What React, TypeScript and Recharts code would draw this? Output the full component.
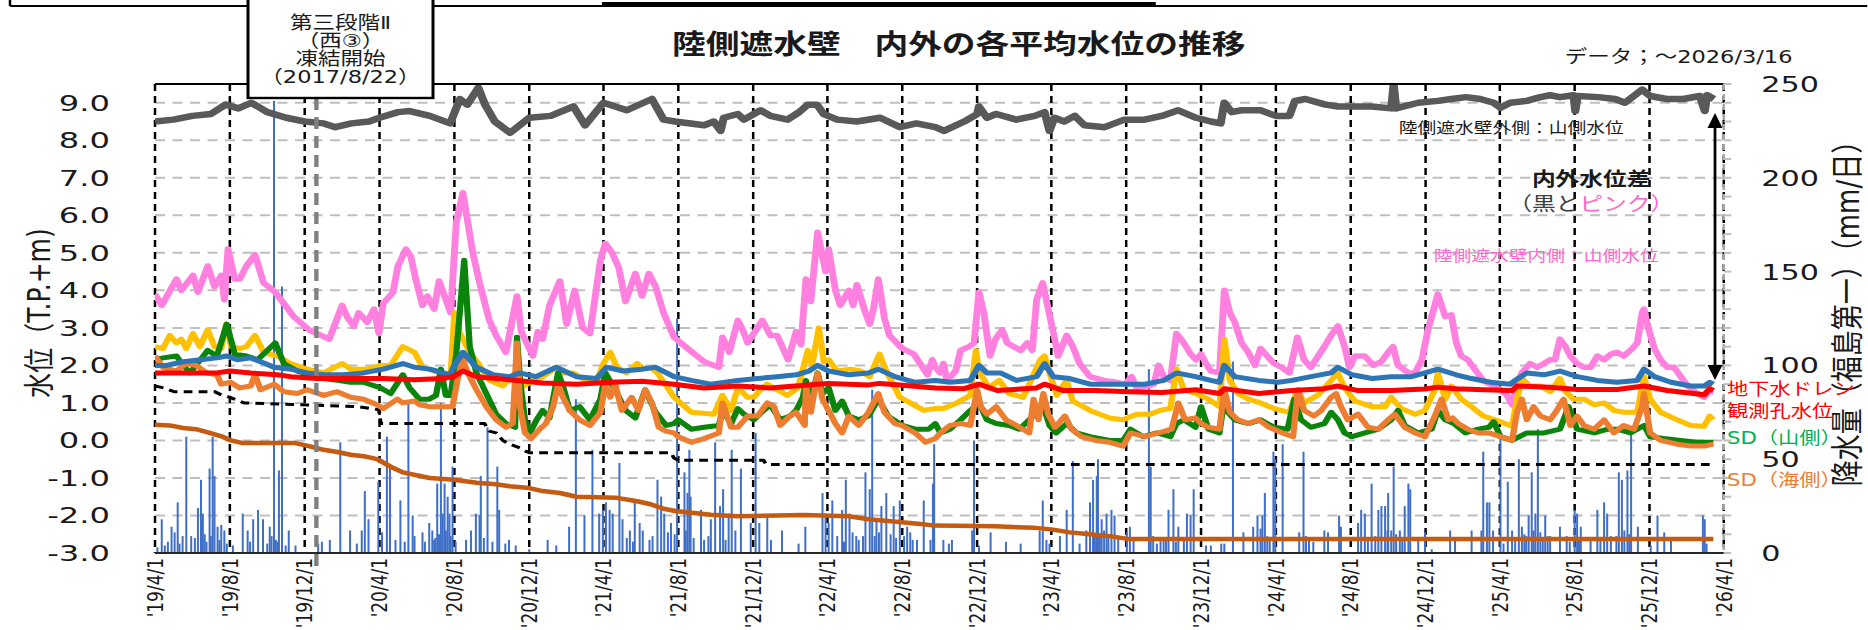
import React from 'react';
import { ComposedChart, Line, Bar, XAxis, YAxis, CartesianGrid } from 'recharts';

// the source picture is stretched sideways, so the whole chart is drawn narrow and scaled in x
const S = 1.25;
const W = 1494;
const H = 630;
const FONT = "'DejaVu Sans', 'Noto Sans CJK JP', sans-serif";
const CJK = "'Noto Sans CJK JP', sans-serif";

const tickDates = [
  '2019-04-01', '2019-08-01', '2019-12-01', '2020-04-01', '2020-08-01', '2020-12-01',
  '2021-04-01', '2021-08-01', '2021-12-01', '2022-04-01', '2022-08-01', '2022-12-01',
  '2023-04-01', '2023-08-01', '2023-12-01', '2024-04-01', '2024-08-01', '2024-12-01',
  '2025-04-01', '2025-08-01', '2025-12-01', '2026-04-01',
];
const tickLabels = [
  "'19/4/1", "'19/8/1", "'19/12/1", "'20/4/1", "'20/8/1", "'20/12/1",
  "'21/4/1", "'21/8/1", "'21/12/1", "'22/4/1", "'22/8/1", "'22/12/1",
  "'23/4/1", "'23/8/1", "'23/12/1", "'24/4/1", "'24/8/1", "'24/12/1",
  "'25/4/1", "'25/8/1", "'25/12/1", "'26/4/1",
];
const levelTicks = [-3, -2, -1, 0, 1, 2, 3, 4, 5, 6, 7, 8, 9];
const rainTicks = [0, 10, 20, 30, 40, 50, 60, 70, 80, 90, 100, 110, 120, 130, 140, 150, 160, 170, 180, 190, 200, 210, 220, 230, 240, 250];

type Pt = [string, number];

// 陸側遮水壁外側：山側水位 (gray)
const outerLevel: Pt[] = [
  ['2019-04-01', 8.5], ['2019-05-01', 8.55], ['2019-06-01', 8.65], ['2019-07-01', 8.7], ['2019-07-25', 8.95], ['2019-08-15', 8.85],
  ['2019-09-05', 9.0], ['2019-10-01', 8.75], ['2019-11-01', 8.6], ['2019-12-01', 8.5], ['2020-01-01', 8.45], ['2020-01-20', 8.35],
  ['2020-02-15', 8.45], ['2020-03-15', 8.5], ['2020-04-01', 8.6], ['2020-05-01', 8.75], ['2020-05-20', 8.78], ['2020-06-22', 8.65],
  ['2020-07-25', 8.45], ['2020-08-10', 9.1], ['2020-08-22', 8.95], ['2020-09-09', 9.4], ['2020-09-20', 8.95], ['2020-10-06', 8.5],
  ['2020-10-31', 8.2], ['2020-12-01', 8.6], ['2021-01-05', 8.65], ['2021-02-11', 8.9], ['2021-03-02', 8.4], ['2021-04-01', 9.0],
  ['2021-05-09', 8.8], ['2021-06-19', 9.1], ['2021-07-08', 8.55], ['2021-07-27', 8.5], ['2021-09-12', 8.4], ['2021-09-28', 8.5],
  ['2021-10-09', 8.25], ['2021-10-14', 8.6], ['2021-11-06', 8.7], ['2021-11-16', 8.55], ['2021-12-13', 8.8], ['2021-12-29', 8.65],
  ['2022-01-26', 8.55], ['2022-02-14', 8.75], ['2022-02-28', 8.95], ['2022-03-15', 8.95], ['2022-03-26', 8.7], ['2022-04-17', 8.55],
  ['2022-05-19', 8.5], ['2022-06-26', 8.6], ['2022-07-28', 8.35], ['2022-08-24', 8.45], ['2022-09-24', 8.35], ['2022-10-08', 8.25],
  ['2022-11-10', 8.5], ['2022-12-01', 8.7], ['2022-12-04', 8.9], ['2022-12-17', 8.6], ['2023-01-01', 8.7], ['2023-02-03', 8.55],
  ['2023-03-05', 8.65], ['2023-03-21', 8.75], ['2023-03-29', 8.25], ['2023-04-06', 8.6], ['2023-04-22', 8.5], ['2023-05-09', 8.65],
  ['2023-05-25', 8.4], ['2023-06-27', 8.35], ['2023-07-29', 8.55], ['2023-08-31', 8.55], ['2023-09-28', 8.65], ['2023-10-25', 8.8],
  ['2023-11-23', 8.6], ['2023-12-17', 8.5], ['2024-01-02', 8.45], ['2024-01-08', 9.0], ['2024-01-20', 8.75], ['2024-02-05', 8.8],
  ['2024-03-07', 8.8], ['2024-04-01', 8.65], ['2024-04-23', 8.65], ['2024-05-02', 9.05], ['2024-05-19', 9.1], ['2024-06-21', 8.95],
  ['2024-07-11', 8.9], ['2024-08-03', 8.9], ['2024-09-04', 8.9], ['2024-10-06', 8.85], ['2024-10-10', 9.5], ['2024-10-14', 8.85],
  ['2024-11-19', 9.0], ['2024-12-21', 9.05], ['2025-01-12', 9.1], ['2025-02-05', 9.15], ['2025-02-28', 9.1], ['2025-03-22', 9.0],
  ['2025-04-02', 8.87], ['2025-04-18', 9.0], ['2025-05-15', 9.05], ['2025-06-06', 9.15], ['2025-06-22', 9.2], ['2025-07-08', 9.15],
  ['2025-07-30', 9.2], ['2025-08-02', 8.78], ['2025-08-06', 9.18], ['2025-09-09', 9.15], ['2025-10-06', 9.1], ['2025-10-22', 9.0],
  ['2025-11-19', 9.35], ['2025-12-02', 9.18], ['2025-12-29', 9.1], ['2026-01-25', 9.1], ['2026-02-21', 9.18], ['2026-03-01', 8.78],
  ['2026-03-05', 9.2], ['2026-03-16', 9.1],
];

// 陸側遮水壁内側：山側水位 (pink)
const innerLevel: Pt[] = [
  ['2019-04-01', 3.9], ['2019-04-12', 3.6], ['2019-05-06', 4.3], ['2019-05-14', 4.0], ['2019-06-02', 4.4], ['2019-06-10', 3.95],
  ['2019-06-26', 4.65], ['2019-07-07', 4.1], ['2019-07-18', 4.4], ['2019-07-23', 3.75], ['2019-07-29', 5.1], ['2019-08-09', 4.3],
  ['2019-08-17', 4.3], ['2019-08-28', 4.65], ['2019-09-11', 4.95], ['2019-09-25', 4.2], ['2019-10-14', 3.95], ['2019-10-28', 3.65],
  ['2019-11-13', 3.3], ['2019-12-08', 2.95], ['2020-01-10', 2.7], ['2020-01-31', 3.6], ['2020-02-08', 3.3], ['2020-02-19', 3.05],
  ['2020-02-27', 3.4], ['2020-03-12', 3.15], ['2020-03-23', 3.5], ['2020-03-31', 2.85], ['2020-04-07', 3.65], ['2020-04-23', 3.95],
  ['2020-05-01', 4.65], ['2020-05-14', 5.1], ['2020-05-22', 4.9], ['2020-05-30', 4.3], ['2020-06-10', 3.6], ['2020-06-18', 3.85],
  ['2020-06-29', 3.5], ['2020-07-07', 4.25], ['2020-07-26', 3.4], ['2020-08-04', 5.8], ['2020-08-15', 6.6], ['2020-08-23', 5.8],
  ['2020-08-31', 5.0], ['2020-09-11', 4.2], ['2020-09-27', 3.2], ['2020-10-08', 2.8], ['2020-10-24', 2.35], ['2020-11-11', 3.85],
  ['2020-11-18', 2.9], ['2020-12-07', 2.25], ['2020-12-15', 2.9], ['2020-12-23', 2.7], ['2021-01-03', 3.6], ['2021-01-20', 4.25],
  ['2021-01-31', 3.1], ['2021-02-13', 4.0], ['2021-02-26', 3.0], ['2021-03-10', 2.85], ['2021-03-27', 4.8], ['2021-04-04', 5.25],
  ['2021-04-15', 5.0], ['2021-04-26', 4.6], ['2021-05-07', 3.7], ['2021-05-23', 4.45], ['2021-06-03', 3.85], ['2021-06-14', 4.45],
  ['2021-06-25', 4.1], ['2021-07-08', 3.4], ['2021-07-25', 2.75], ['2021-08-16', 2.45], ['2021-09-12', 2.1], ['2021-10-06', 1.95],
  ['2021-10-12', 2.75], ['2021-10-23', 2.35], ['2021-11-06', 3.2], ['2021-11-14', 2.95], ['2021-11-22', 2.6], ['2021-12-02', 2.85],
  ['2021-12-16', 3.2], ['2021-12-29', 2.8], ['2022-01-09', 2.8], ['2022-01-27', 2.15], ['2022-02-09', 2.9], ['2022-02-17', 2.55],
  ['2022-02-25', 4.3], ['2022-03-05', 3.7], ['2022-03-16', 5.55], ['2022-03-24', 4.9], ['2022-03-29', 4.5], ['2022-04-03', 5.1],
  ['2022-04-14', 4.0], ['2022-04-22', 3.6], ['2022-05-06', 4.0], ['2022-05-13', 3.6], ['2022-05-19', 4.15], ['2022-06-01', 3.45],
  ['2022-06-09', 3.1], ['2022-06-15', 3.5], ['2022-06-23', 4.3], ['2022-07-03', 3.25], ['2022-07-11', 2.8], ['2022-08-01', 2.45],
  ['2022-08-20', 2.3], ['2022-09-11', 1.75], ['2022-09-19', 2.15], ['2022-09-24', 1.95], ['2022-10-02', 1.8], ['2022-10-07', 2.05],
  ['2022-10-13', 1.6], ['2022-10-27', 1.85], ['2022-11-04', 2.4], ['2022-11-18', 2.5], ['2022-11-26', 2.6], ['2022-12-04', 3.95],
  ['2022-12-12', 3.4], ['2022-12-22', 2.25], ['2022-12-31', 2.7], ['2023-01-11', 2.95], ['2023-01-19', 2.6], ['2023-01-30', 2.5],
  ['2023-02-10', 2.4], ['2023-02-21', 2.6], ['2023-03-01', 2.4], ['2023-03-08', 3.75], ['2023-03-18', 4.2], ['2023-03-27', 3.5],
  ['2023-04-04', 2.9], ['2023-04-12', 2.25], ['2023-04-26', 2.8], ['2023-05-06', 2.5], ['2023-05-17', 2.05], ['2023-06-03', 1.7],
  ['2023-06-25', 1.6], ['2023-07-16', 1.55], ['2023-07-30', 1.5], ['2023-08-10', 1.7], ['2023-08-18', 1.4], ['2023-09-04', 1.45],
  ['2023-09-15', 1.5], ['2023-09-23', 2.0], ['2023-10-01', 1.7], ['2023-10-12', 1.6], ['2023-10-22', 2.85], ['2023-11-03', 2.6],
  ['2023-11-14', 2.3], ['2023-11-23', 2.15], ['2023-12-01', 2.3], ['2023-12-09', 2.05], ['2023-12-17', 1.85], ['2023-12-31', 1.8],
  ['2024-01-08', 4.0], ['2024-01-17', 3.4], ['2024-01-25', 3.15], ['2024-02-05', 2.6], ['2024-02-16', 2.35], ['2024-02-27', 2.0],
  ['2024-03-07', 2.45], ['2024-03-18', 2.25], ['2024-03-29', 2.05], ['2024-04-10', 1.95], ['2024-04-23', 1.8], ['2024-05-06', 2.75],
  ['2024-05-17', 2.15], ['2024-05-28', 1.95], ['2024-06-11', 2.3], ['2024-06-19', 2.5], ['2024-06-30', 2.8], ['2024-07-11', 3.05],
  ['2024-07-22', 2.5], ['2024-07-30', 1.95], ['2024-08-08', 2.25], ['2024-08-24', 2.25], ['2024-09-07', 2.0], ['2024-09-20', 2.1],
  ['2024-10-01', 2.35], ['2024-10-09', 2.5], ['2024-10-17', 2.0], ['2024-11-03', 1.8], ['2024-11-14', 1.8], ['2024-11-25', 2.15],
  ['2024-12-05', 2.95], ['2024-12-21', 3.9], ['2025-01-02', 3.3], ['2025-01-12', 3.35], ['2025-01-20', 2.6], ['2025-01-28', 2.25],
  ['2025-02-08', 2.15], ['2025-02-19', 1.9], ['2025-03-05', 1.6], ['2025-03-22', 1.45], ['2025-04-02', 1.35], ['2025-04-13', 1.2],
  ['2025-04-21', 0.95], ['2025-04-29', 1.5], ['2025-05-07', 1.8], ['2025-05-20', 2.05], ['2025-06-01', 1.95], ['2025-06-12', 2.05],
  ['2025-06-22', 2.15], ['2025-06-30', 2.15], ['2025-07-08', 2.7], ['2025-07-17', 2.5], ['2025-07-25', 2.25], ['2025-08-05', 2.05],
  ['2025-08-16', 1.95], ['2025-08-27', 1.95], ['2025-09-07', 2.25], ['2025-09-18', 2.15], ['2025-09-29', 2.3], ['2025-10-09', 2.35],
  ['2025-10-20', 2.25], ['2025-11-03', 2.45], ['2025-11-11', 2.6], ['2025-11-19', 3.4], ['2025-11-22', 3.5], ['2025-11-28', 3.05],
  ['2025-12-09', 2.45], ['2025-12-19', 2.15], ['2025-12-30', 1.95], ['2026-01-10', 1.95], ['2026-01-21', 1.7], ['2026-02-01', 1.45],
  ['2026-02-17', 1.25], ['2026-02-28', 1.15], ['2026-03-07', 1.3], ['2026-03-15', 1.3],
];

// yellow line
const yellowLevel: Pt[] = [
  ['2019-04-01', 2.5], ['2019-04-14', 2.45], ['2019-04-25', 2.8], ['2019-05-06', 2.6], ['2019-05-14', 2.7], ['2019-05-22', 2.45],
  ['2019-06-02', 2.85], ['2019-06-13', 2.5], ['2019-06-26', 2.95], ['2019-07-07', 2.5], ['2019-07-18', 2.45], ['2019-07-26', 3.1],
  ['2019-08-03', 2.5], ['2019-08-17', 2.45], ['2019-08-28', 2.5], ['2019-09-11', 2.8], ['2019-09-25', 2.35], ['2019-10-17', 2.25],
  ['2019-11-08', 2.05], ['2019-12-05', 1.9], ['2020-01-01', 1.8], ['2020-01-31', 2.05], ['2020-02-14', 1.9], ['2020-03-12', 1.9],
  ['2020-04-03', 2.0], ['2020-04-19', 2.0], ['2020-05-09', 2.5], ['2020-05-28', 2.35], ['2020-06-10', 1.95], ['2020-06-29', 1.85],
  ['2020-07-26', 1.75], ['2020-08-01', 3.4], ['2020-08-09', 2.9], ['2020-08-18', 2.6], ['2020-08-26', 2.35], ['2020-09-11', 2.0],
  ['2020-09-27', 1.6], ['2020-10-19', 1.45], ['2020-11-08', 1.8], ['2020-11-22', 1.45], ['2020-12-07', 1.6], ['2020-12-23', 1.7],
  ['2021-01-14', 1.95], ['2021-01-25', 1.8], ['2021-02-10', 1.8], ['2021-03-04', 1.6], ['2021-03-20', 1.55], ['2021-04-01', 2.05],
  ['2021-04-12', 2.35], ['2021-04-23', 1.95], ['2021-05-09', 1.8], ['2021-05-26', 2.05], ['2021-06-06', 1.9], ['2021-06-17', 1.95],
  ['2021-06-28', 1.8], ['2021-07-25', 1.15], ['2021-08-22', 0.75], ['2021-09-28', 0.7], ['2021-10-12', 1.2], ['2021-10-26', 0.8],
  ['2021-11-06', 1.4], ['2021-11-22', 1.15], ['2021-12-02', 1.15], ['2021-12-13', 1.35], ['2021-12-24', 1.5], ['2022-01-09', 1.35],
  ['2022-01-26', 1.2], ['2022-02-12', 1.4], ['2022-02-28', 2.4], ['2022-03-07', 2.0], ['2022-03-18', 3.0], ['2022-03-26', 2.1],
  ['2022-04-03', 2.15], ['2022-04-17', 1.85], ['2022-05-09', 1.9], ['2022-05-25', 1.85], ['2022-06-09', 1.7], ['2022-06-25', 2.3],
  ['2022-07-06', 1.85], ['2022-07-28', 1.15], ['2022-08-14', 1.0], ['2022-09-05', 0.8], ['2022-09-24', 0.85], ['2022-10-07', 0.85],
  ['2022-10-29', 1.0], ['2022-11-20', 1.2], ['2022-11-29', 2.4], ['2022-12-04', 1.85], ['2022-12-20', 1.4], ['2023-01-06', 1.6],
  ['2023-01-22', 1.25], ['2023-02-14', 1.15], ['2023-03-03', 1.75], ['2023-03-14', 2.15], ['2023-03-21', 2.25], ['2023-03-29', 1.8],
  ['2023-04-10', 1.2], ['2023-04-26', 1.6], ['2023-05-06', 1.05], ['2023-06-03', 0.8], ['2023-07-05', 0.6], ['2023-07-27', 0.55],
  ['2023-08-18', 0.7], ['2023-09-09', 0.7], ['2023-09-25', 0.8], ['2023-10-12', 0.85], ['2023-10-22', 1.9], ['2023-11-03', 1.35],
  ['2023-11-22', 1.25], ['2023-12-13', 1.1], ['2023-12-31', 0.9], ['2024-01-08', 2.7], ['2024-01-17', 1.6], ['2024-01-30', 1.25],
  ['2024-02-16', 1.1], ['2024-03-07', 1.0], ['2024-03-29', 0.85], ['2024-04-23', 0.75], ['2024-05-06', 1.35], ['2024-05-17', 1.0],
  ['2024-06-08', 1.2], ['2024-06-30', 1.6], ['2024-07-11', 1.8], ['2024-07-22', 1.4], ['2024-08-08', 1.05], ['2024-09-04', 0.9],
  ['2024-09-26', 0.9], ['2024-10-06', 1.15], ['2024-10-22', 0.85], ['2024-11-14', 0.7], ['2024-11-30', 0.8], ['2024-12-16', 1.35],
  ['2024-12-21', 1.8], ['2025-01-02', 1.1], ['2025-01-12', 1.45], ['2025-01-28', 1.1], ['2025-02-14', 0.9], ['2025-03-05', 0.65],
  ['2025-04-02', 0.5], ['2025-04-21', 0.38], ['2025-04-29', 1.1], ['2025-05-07', 1.65], ['2025-05-20', 1.45], ['2025-06-06', 1.45],
  ['2025-06-22', 1.3], ['2025-07-08', 1.65], ['2025-07-17', 1.3], ['2025-07-30', 1.1], ['2025-08-16', 1.1], ['2025-09-02', 0.95],
  ['2025-09-18', 1.0], ['2025-10-04', 0.8], ['2025-10-20', 0.75], ['2025-11-11', 0.75], ['2025-11-22', 1.7], ['2025-12-02', 1.1],
  ['2025-12-19', 0.75], ['2026-01-15', 0.55], ['2026-02-06', 0.4], ['2026-02-28', 0.38], ['2026-03-09', 0.65], ['2026-03-15', 0.55],
];

// blue line
const blueLevel: Pt[] = [
  ['2019-04-01', 2.0], ['2019-04-20', 2.0], ['2019-05-17', 2.1], ['2019-06-14', 2.15], ['2019-07-11', 2.2], ['2019-07-27', 2.25],
  ['2019-08-13', 2.15], ['2019-09-04', 2.2], ['2019-09-20', 2.1], ['2019-10-12', 1.95], ['2019-11-08', 1.9], ['2019-12-05', 1.8],
  ['2020-01-01', 1.75], ['2020-02-02', 1.75], ['2020-03-06', 1.8], ['2020-04-07', 1.9], ['2020-05-09', 2.05], ['2020-05-28', 1.95],
  ['2020-06-22', 1.9], ['2020-07-25', 1.75], ['2020-08-01', 2.0], ['2020-08-15', 2.35], ['2020-09-06', 1.95], ['2020-10-03', 1.75],
  ['2020-10-30', 1.7], ['2020-11-15', 1.8], ['2020-12-12', 1.7], ['2021-01-14', 1.95], ['2021-02-16', 1.7], ['2021-03-21', 1.65],
  ['2021-04-06', 1.95], ['2021-05-03', 1.85], ['2021-06-03', 1.9], ['2021-06-25', 1.95], ['2021-07-25', 1.7], ['2021-08-22', 1.6],
  ['2021-09-23', 1.5], ['2021-11-06', 1.6], ['2021-12-08', 1.65], ['2022-01-09', 1.7], ['2022-02-09', 1.75], ['2022-03-02', 1.85],
  ['2022-03-16', 2.0], ['2022-04-03', 1.85], ['2022-05-06', 1.75], ['2022-06-07', 1.8], ['2022-06-23', 1.9], ['2022-07-20', 1.7],
  ['2022-08-22', 1.55], ['2022-09-24', 1.6], ['2022-10-18', 1.55], ['2022-11-20', 1.6], ['2022-12-04', 2.0], ['2022-12-17', 1.8],
  ['2023-01-08', 1.8], ['2023-02-03', 1.6], ['2023-03-08', 1.7], ['2023-03-21', 2.05], ['2023-04-04', 1.7], ['2023-05-01', 1.65],
  ['2023-06-03', 1.5], ['2023-07-05', 1.5], ['2023-08-06', 1.5], ['2023-09-01', 1.5], ['2023-10-01', 1.6], ['2023-10-22', 1.8],
  ['2023-11-22', 1.7], ['2023-12-17', 1.6], ['2023-12-31', 1.55], ['2024-01-08', 2.0], ['2024-01-25', 1.7], ['2024-03-04', 1.6],
  ['2024-04-05', 1.55], ['2024-04-27', 1.6], ['2024-05-28', 1.7], ['2024-06-30', 1.8], ['2024-07-11', 1.95], ['2024-08-03', 1.75],
  ['2024-09-05', 1.65], ['2024-10-06', 1.7], ['2024-11-08', 1.7], ['2024-11-30', 1.8], ['2024-12-21', 1.9], ['2025-01-20', 1.75],
  ['2025-02-14', 1.65], ['2025-03-17', 1.55], ['2025-04-18', 1.5], ['2025-04-26', 1.6], ['2025-05-15', 1.8], ['2025-06-12', 1.75],
  ['2025-07-08', 1.85], ['2025-08-05', 1.7], ['2025-09-07', 1.6], ['2025-10-09', 1.55], ['2025-11-11', 1.6], ['2025-11-22', 1.9],
  ['2025-12-09', 1.7], ['2026-01-05', 1.55], ['2026-02-06', 1.45], ['2026-02-28', 1.45], ['2026-03-09', 1.55], ['2026-03-15', 1.5],
];

// 地下水ドレン観測孔水位 (red)
const drainLevel: Pt[] = [
  ['2019-04-01', 1.8], ['2019-05-17', 1.8], ['2019-07-11', 1.8], ['2019-08-01', 1.85], ['2019-09-04', 1.8], ['2019-10-17', 1.75],
  ['2019-11-08', 1.7], ['2019-12-21', 1.65], ['2020-02-14', 1.65], ['2020-04-07', 1.65], ['2020-05-28', 1.62], ['2020-07-13', 1.65],
  ['2020-07-30', 1.7], ['2020-08-15', 1.85], ['2020-09-06', 1.7], ['2020-10-30', 1.62], ['2020-12-23', 1.53], ['2021-02-16', 1.5],
  ['2021-04-12', 1.55], ['2021-06-03', 1.58], ['2021-07-25', 1.5], ['2021-09-12', 1.4], ['2021-11-06', 1.45], ['2021-12-29', 1.4],
  ['2022-03-15', 1.5], ['2022-04-03', 1.52], ['2022-06-07', 1.48], ['2022-06-25', 1.52], ['2022-07-28', 1.48], ['2022-09-24', 1.4],
  ['2022-11-10', 1.38], ['2022-12-04', 1.5], ['2023-01-03', 1.33], ['2023-03-08', 1.4], ['2023-03-21', 1.5], ['2023-04-20', 1.33],
  ['2023-06-12', 1.33], ['2023-08-06', 1.3], ['2023-09-28', 1.28], ['2023-11-22', 1.35], ['2023-12-31', 1.25], ['2024-01-08', 1.38],
  ['2024-03-04', 1.25], ['2024-04-27', 1.33], ['2024-06-19', 1.38], ['2024-07-11', 1.45], ['2024-08-13', 1.33], ['2024-10-06', 1.33],
  ['2024-11-30', 1.37], ['2024-12-21', 1.42], ['2025-01-20', 1.38], ['2025-03-05', 1.35], ['2025-04-21', 1.33], ['2025-04-29', 1.45],
  ['2025-06-22', 1.42], ['2025-08-05', 1.36], ['2025-10-09', 1.36], ['2025-11-22', 1.45], ['2025-12-30', 1.33], ['2026-02-28', 1.22],
  ['2026-03-09', 1.38], ['2026-03-15', 1.33],
];

// SD（山側） (green)
const sdMountain: Pt[] = [
  ['2019-04-01', 2.15], ['2019-04-14', 2.2], ['2019-05-06', 2.25], ['2019-05-17', 2.0], ['2019-05-28', 1.8], ['2019-06-14', 2.15],
  ['2019-06-26', 2.4], ['2019-07-11', 2.25], ['2019-07-27', 3.1], ['2019-08-09', 2.3], ['2019-08-28', 2.25], ['2019-09-15', 2.15],
  ['2019-10-14', 2.6], ['2019-10-28', 2.05], ['2019-11-19', 1.85], ['2019-12-11', 1.75], ['2020-01-01', 1.65], ['2020-01-23', 1.6],
  ['2020-02-14', 1.55], ['2020-03-06', 1.55], ['2020-04-03', 1.4], ['2020-04-19', 1.25], ['2020-05-09', 1.75], ['2020-05-20', 1.4],
  ['2020-06-05', 1.1], ['2020-06-21', 1.1], ['2020-07-02', 1.2], ['2020-07-10', 1.9], ['2020-07-18', 1.2], ['2020-07-26', 1.2],
  ['2020-08-04', 2.3], ['2020-08-17', 4.8], ['2020-08-26', 2.5], ['2020-09-06', 1.8], ['2020-09-22', 1.25], ['2020-10-08', 0.7],
  ['2020-10-24', 0.45], ['2020-11-08', 0.35], ['2020-11-11', 2.75], ['2020-11-16', 1.6], ['2020-11-24', 0.55], ['2020-12-02', 0.2],
  ['2020-12-13', 0.55], ['2020-12-23', 0.8], ['2021-01-03', 0.6], ['2021-01-17', 1.8], ['2021-01-25', 1.45], ['2021-02-05', 0.8],
  ['2021-02-21', 0.9], ['2021-03-10', 0.55], ['2021-03-27', 1.1], ['2021-04-04', 1.8], ['2021-04-20', 1.35], ['2021-05-07', 0.8],
  ['2021-05-23', 0.6], ['2021-06-08', 1.35], ['2021-06-25', 0.75], ['2021-07-12', 0.4], ['2021-07-25', 0.45], ['2021-08-01', 0.55],
  ['2021-08-22', 0.3], ['2021-09-12', 0.35], ['2021-10-06', 0.4], ['2021-10-12', 0.8], ['2021-10-26', 0.45], ['2021-11-06', 0.85],
  ['2021-11-16', 0.7], ['2021-12-02', 0.55], ['2021-12-18', 0.8], ['2021-12-29', 0.95], ['2022-01-14', 0.55], ['2022-01-30', 0.65],
  ['2022-02-09', 0.8], ['2022-02-20', 1.15], ['2022-02-25', 1.6], ['2022-03-05', 1.05], ['2022-03-16', 1.8], ['2022-03-24', 1.25],
  ['2022-04-03', 1.4], ['2022-04-14', 0.8], ['2022-04-25', 1.05], ['2022-05-06', 0.65], ['2022-05-22', 0.55], ['2022-06-07', 0.65],
  ['2022-06-23', 1.1], ['2022-07-09', 0.65], ['2022-08-01', 0.4], ['2022-08-22', 0.3], ['2022-09-13', 0.3], ['2022-09-24', 0.45],
  ['2022-10-02', 0.2], ['2022-10-18', 0.3], ['2022-11-04', 0.55], ['2022-11-20', 0.8], ['2022-12-01', 0.95], ['2022-12-07', 0.9],
  ['2022-12-17', 0.55], ['2023-01-01', 0.45], ['2023-01-22', 0.4], ['2023-02-08', 0.3], ['2023-02-24', 0.55], ['2023-03-08', 0.75],
  ['2023-03-21', 0.8], ['2023-03-29', 0.4], ['2023-04-09', 0.2], ['2023-04-26', 0.45], ['2023-05-12', 0.2], ['2023-06-03', 0.1],
  ['2023-07-05', 0.0], ['2023-07-27', 0.0], ['2023-08-08', 0.3], ['2023-08-29', 0.1], ['2023-09-20', 0.2], ['2023-10-12', 0.1],
  ['2023-10-22', 0.45], ['2023-11-03', 0.55], ['2023-11-22', 0.35], ['2023-12-01', 0.9], ['2023-12-13', 0.3], ['2023-12-31', 0.2],
  ['2024-01-08', 1.1], ['2024-01-14', 0.75], ['2024-01-25', 0.55], ['2024-02-16', 0.45], ['2024-03-07', 0.55], ['2024-03-29', 0.35],
  ['2024-04-20', 0.3], ['2024-05-01', 1.1], ['2024-05-12', 0.55], ['2024-05-28', 0.35], ['2024-06-19', 0.45], ['2024-06-30', 0.75],
  ['2024-07-11', 0.55], ['2024-07-22', 0.2], ['2024-08-03', 0.1], ['2024-08-24', 0.2], ['2024-09-15', 0.3], ['2024-10-06', 0.55],
  ['2024-10-17', 0.8], ['2024-10-28', 0.4], ['2024-11-19', 0.2], ['2024-12-11', 0.3], ['2024-12-21', 0.8], ['2025-01-02', 0.55],
  ['2025-01-16', 0.45], ['2025-02-04', 0.2], ['2025-02-25', 0.3], ['2025-03-14', 0.35], ['2025-03-22', 0.5], ['2025-04-02', 0.1],
  ['2025-04-21', 0.0], ['2025-05-15', 0.2], ['2025-06-12', 0.2], ['2025-07-08', 0.3], ['2025-07-22', 0.9], ['2025-08-05', 0.3],
  ['2025-09-02', 0.2], ['2025-09-24', 0.3], ['2025-10-09', 0.3], ['2025-10-31', 0.2], ['2025-11-22', 0.4], ['2025-12-02', 0.1],
  ['2025-12-24', 0.05], ['2026-01-21', 0.0], ['2026-02-17', -0.05], ['2026-03-15', -0.05],
];

// SD（海側） (orange)
const sdSea: Pt[] = [
  ['2019-04-01', 2.25], ['2019-04-14', 1.95], ['2019-05-06', 1.85], ['2019-05-22', 2.05], ['2019-06-07', 2.0], ['2019-06-24', 1.8],
  ['2019-07-11', 1.75], ['2019-07-18', 1.5], ['2019-08-02', 1.55], ['2019-08-17', 1.4], ['2019-09-04', 1.45], ['2019-09-11', 1.75],
  ['2019-09-20', 1.35], ['2019-10-12', 1.5], ['2019-10-28', 1.3], ['2019-11-19', 1.25], ['2019-12-05', 1.35], ['2020-01-01', 1.2],
  ['2020-01-23', 1.3], ['2020-02-14', 1.15], ['2020-03-06', 1.1], ['2020-03-28', 0.95], ['2020-04-07', 0.85], ['2020-04-30', 1.1],
  ['2020-05-09', 1.0], ['2020-05-28', 1.05], ['2020-06-05', 0.95], ['2020-06-21', 0.9], ['2020-07-13', 0.9], ['2020-07-29', 0.9],
  ['2020-08-07', 1.7], ['2020-08-15', 2.15], ['2020-08-23', 1.8], ['2020-09-06', 1.35], ['2020-09-22', 0.9], ['2020-10-08', 0.55],
  ['2020-10-24', 0.35], ['2020-11-04', 0.45], ['2020-11-11', 2.6], ['2020-11-16', 0.9], ['2020-11-24', 0.2], ['2020-12-04', 0.05],
  ['2020-12-18', 0.3], ['2020-12-28', 0.45], ['2021-01-09', 0.9], ['2021-01-17', 1.5], ['2021-01-25', 1.15], ['2021-02-05', 0.8],
  ['2021-02-21', 0.55], ['2021-03-10', 0.4], ['2021-03-27', 0.75], ['2021-04-04', 1.5], ['2021-04-12', 1.15], ['2021-04-20', 1.5],
  ['2021-05-01', 0.8], ['2021-05-17', 1.15], ['2021-05-28', 0.8], ['2021-06-08', 1.35], ['2021-06-19', 1.0], ['2021-06-30', 0.35],
  ['2021-07-11', 0.25], ['2021-07-25', 0.2], ['2021-08-01', 0.1], ['2021-08-22', -0.05], ['2021-09-12', 0.05], ['2021-10-06', 0.2],
  ['2021-10-12', 1.0], ['2021-10-26', 0.35], ['2021-11-06', 0.35], ['2021-11-22', 0.65], ['2021-12-08', 0.65], ['2021-12-24', 1.0],
  ['2022-01-04', 0.9], ['2022-01-14', 0.4], ['2022-01-30', 0.65], ['2022-02-09', 0.75], ['2022-02-23', 0.4], ['2022-02-25', 1.45],
  ['2022-03-05', 0.75], ['2022-03-16', 1.8], ['2022-03-24', 1.1], ['2022-04-03', 0.8], ['2022-04-14', 0.45], ['2022-04-25', 0.2],
  ['2022-05-06', 0.65], ['2022-05-22', 0.4], ['2022-06-07', 0.75], ['2022-06-23', 1.25], ['2022-07-03', 0.75], ['2022-07-20', 0.45],
  ['2022-07-31', 0.4], ['2022-08-22', 0.2], ['2022-09-08', -0.05], ['2022-09-24', 0.05], ['2022-10-02', 0.2], ['2022-10-18', 0.4],
  ['2022-11-04', 0.45], ['2022-11-20', 0.4], ['2022-12-01', 1.35], ['2022-12-07', 0.9], ['2022-12-17', 0.7], ['2023-01-01', 0.9],
  ['2023-01-17', 0.55], ['2023-02-03', 0.4], ['2023-02-24', 0.2], ['2023-03-03', 1.1], ['2023-03-11', 0.55], ['2023-03-19', 1.25],
  ['2023-03-27', 0.7], ['2023-04-07', 0.35], ['2023-04-23', 0.65], ['2023-05-04', 0.3], ['2023-05-20', 0.1], ['2023-06-12', 0.0],
  ['2023-07-05', -0.05], ['2023-07-27', -0.15], ['2023-08-08', 0.2], ['2023-08-31', 0.1], ['2023-09-23', 0.2], ['2023-10-14', 0.3],
  ['2023-10-25', 1.0], ['2023-11-05', 0.55], ['2023-11-22', 0.6], ['2023-12-01', 0.45], ['2023-12-13', 0.35], ['2023-12-31', 0.3],
  ['2024-01-08', 1.35], ['2024-01-17', 0.75], ['2024-01-30', 0.55], ['2024-02-16', 0.45], ['2024-03-04', 0.55], ['2024-03-21', 0.35],
  ['2024-04-12', 0.2], ['2024-04-29', 0.1], ['2024-05-07', 1.35], ['2024-05-17', 0.8], ['2024-06-02', 0.65], ['2024-06-14', 0.8],
  ['2024-06-30', 1.15], ['2024-07-08', 1.25], ['2024-07-16', 0.9], ['2024-07-27', 0.55], ['2024-08-13', 0.7], ['2024-08-29', 0.35],
  ['2024-09-15', 0.3], ['2024-10-01', 0.55], ['2024-10-12', 0.7], ['2024-10-28', 0.35], ['2024-11-14', 0.2], ['2024-11-30', 0.1],
  ['2024-12-16', 0.65], ['2024-12-27', 1.1], ['2025-01-07', 0.55], ['2025-01-14', 0.6], ['2025-01-23', 0.45], ['2025-02-08', 0.3],
  ['2025-02-25', 0.2], ['2025-03-14', 0.2], ['2025-04-02', 0.1], ['2025-04-21', 0.0], ['2025-04-29', 0.75], ['2025-05-07', 1.1],
  ['2025-05-15', 0.55], ['2025-05-26', 0.9], ['2025-06-06', 0.65], ['2025-06-22', 0.55], ['2025-07-03', 0.8], ['2025-07-14', 1.1],
  ['2025-07-25', 0.4], ['2025-08-05', 0.65], ['2025-08-16', 0.4], ['2025-09-02', 0.3], ['2025-09-18', 0.55], ['2025-10-04', 0.2],
  ['2025-10-20', 0.4], ['2025-11-06', 0.3], ['2025-11-19', 0.9], ['2025-11-22', 1.25], ['2025-12-02', 0.2], ['2025-12-19', 0.0],
  ['2026-01-15', -0.1], ['2026-02-06', -0.15], ['2026-02-28', -0.15], ['2026-03-15', -0.1],
];

// dark orange, slowly falling line
const deepLevel: Pt[] = [
  ['2019-04-01', 0.42], ['2019-04-25', 0.4], ['2019-05-17', 0.33], ['2019-06-07', 0.3], ['2019-06-29', 0.2], ['2019-07-20', 0.1],
  ['2019-08-03', 0.0], ['2019-08-22', -0.07], ['2019-11-16', -0.07], ['2019-12-08', -0.15], ['2020-01-01', -0.25], ['2020-01-21', -0.3],
  ['2020-02-14', -0.38], ['2020-03-06', -0.42], ['2020-03-28', -0.5], ['2020-04-19', -0.7], ['2020-05-09', -0.85], ['2020-06-22', -1.0],
  ['2020-08-01', -1.05], ['2020-09-06', -1.13], ['2020-10-08', -1.17], ['2020-10-30', -1.22], ['2020-12-01', -1.27], ['2020-12-23', -1.35],
  ['2021-01-20', -1.4], ['2021-02-16', -1.5], ['2021-04-23', -1.53], ['2021-05-26', -1.62], ['2021-06-17', -1.7], ['2021-07-08', -1.82],
  ['2021-07-27', -1.88], ['2021-09-23', -1.98], ['2021-11-06', -2.02], ['2022-02-22', -1.99], ['2022-05-06', -2.02], ['2022-06-07', -2.1],
  ['2022-07-09', -2.15], ['2022-08-31', -2.23], ['2022-09-24', -2.27], ['2022-12-31', -2.29], ['2023-03-05', -2.33], ['2023-04-01', -2.37],
  ['2023-05-01', -2.45], ['2023-06-03', -2.5], ['2023-07-05', -2.55], ['2023-08-06', -2.63], ['2026-03-15', -2.63],
];

// black dashed step line
const stepLevel: Pt[] = [
  ['2019-04-01', 1.45], ['2019-04-15', 1.4], ['2019-05-02', 1.3], ['2019-07-07', 1.3], ['2019-07-20', 1.2], ['2019-08-01', 1.15],
  ['2019-08-24', 1.0], ['2020-02-25', 0.9], ['2020-03-31', 0.82], ['2020-04-03', 0.45], ['2020-09-19', 0.45], ['2020-09-27', 0.25],
  ['2020-10-08', 0.2], ['2020-10-19', 0.0], ['2020-10-30', -0.1], ['2020-11-16', -0.2], ['2020-11-27', -0.3], ['2020-12-02', -0.33],
  ['2021-07-20', -0.33], ['2021-07-25', -0.47], ['2021-08-01', -0.53], ['2021-12-18', -0.53], ['2021-12-22', -0.64], ['2026-03-16', -0.64],
];

// 降水量（福島第一） mm/日
const rainfall: Pt[] = [
  ['2019-04-05', 3], ['2019-04-12', 18], ['2019-04-17', 4], ['2019-04-22', 6], ['2019-04-28', 14], ['2019-05-03', 11], ['2019-05-08', 27],
  ['2019-05-11', 5], ['2019-05-16', 9], ['2019-05-22', 62], ['2019-05-30', 9], ['2019-06-05', 8], ['2019-06-10', 24], ['2019-06-15', 39],
  ['2019-06-18', 21], ['2019-06-21', 10], ['2019-06-24', 6], ['2019-06-29', 45], ['2019-07-01', 9], ['2019-07-04', 62], ['2019-07-07', 41],
  ['2019-07-12', 14], ['2019-07-15', 7], ['2019-07-18', 15], ['2019-07-23', 12], ['2019-07-27', 5], ['2019-08-06', 4], ['2019-08-22', 21],
  ['2019-08-30', 12], ['2019-09-03', 6], ['2019-09-08', 18], ['2019-09-16', 23], ['2019-09-24', 18], ['2019-10-01', 5], ['2019-10-05', 14],
  ['2019-10-08', 9], ['2019-10-12', 241], ['2019-10-15', 7], ['2019-10-18', 6], ['2019-10-20', 44], ['2019-10-25', 142], ['2019-10-31', 4],
  ['2019-11-05', 12], ['2019-11-16', 4], ['2019-12-23', 5], ['2019-12-29', 6], ['2020-01-11', 7], ['2020-01-28', 59], ['2020-02-13', 12],
  ['2020-02-24', 5], ['2020-03-03', 12], ['2020-03-08', 33], ['2020-03-14', 18], ['2020-03-30', 38], ['2020-04-05', 11], ['2020-04-13', 62],
  ['2020-04-18', 46], ['2020-04-27', 7], ['2020-05-05', 28], ['2020-05-12', 6], ['2020-05-18', 80], ['2020-05-25', 20], ['2020-05-28', 9],
  ['2020-06-10', 11], ['2020-06-14', 6], ['2020-06-21', 16], ['2020-06-26', 12], ['2020-06-29', 7], ['2020-07-01', 8], ['2020-07-04', 37],
  ['2020-07-07', 10], ['2020-07-10', 80], ['2020-07-13', 21], ['2020-07-16', 37], ['2020-07-18', 12], ['2020-07-21', 30], ['2020-07-24', 21],
  ['2020-07-26', 9], ['2020-07-29', 46], ['2020-08-03', 6], ['2020-08-20', 7], ['2020-08-28', 12], ['2020-09-05', 21], ['2020-09-11', 20],
  ['2020-09-13', 41], ['2020-09-18', 8], ['2020-09-24', 67], ['2020-10-02', 6], ['2020-10-10', 46], ['2020-10-13', 23], ['2020-10-23', 5],
  ['2020-10-29', 7], ['2020-11-09', 4], ['2020-12-01', 2], ['2020-12-31', 7], ['2021-01-14', 4], ['2021-02-04', 14], ['2021-02-15', 82],
  ['2021-03-01', 20], ['2021-03-14', 55], ['2021-03-25', 21], ['2021-03-31', 23], ['2021-04-05', 27], ['2021-04-11', 23], ['2021-04-16', 21],
  ['2021-04-27', 48], ['2021-05-02', 18], ['2021-05-09', 8], ['2021-05-14', 12], ['2021-05-19', 6], ['2021-05-22', 27], ['2021-05-30', 16],
  ['2021-06-04', 12], ['2021-06-15', 7], ['2021-06-20', 9], ['2021-06-28', 39], ['2021-07-04', 30], ['2021-07-09', 21], ['2021-07-15', 11],
  ['2021-07-20', 16], ['2021-07-26', 10], ['2021-07-30', 125], ['2021-08-11', 43], ['2021-08-13', 12], ['2021-08-16', 32], ['2021-08-19', 55],
  ['2021-08-21', 30], ['2021-08-26', 8], ['2021-09-07', 23], ['2021-09-12', 7], ['2021-09-19', 9], ['2021-09-23', 18], ['2021-09-30', 59],
  ['2021-10-08', 25], ['2021-10-13', 34], ['2021-10-17', 7], ['2021-10-22', 21], ['2021-10-27', 55], ['2021-11-02', 12], ['2021-11-11', 45],
  ['2021-11-27', 16], ['2021-12-05', 64], ['2021-12-11', 16], ['2021-12-24', 20], ['2021-12-30', 7], ['2022-01-17', 12], ['2022-02-13', 5],
  ['2022-02-24', 14], ['2022-03-24', 32], ['2022-03-29', 21], ['2022-04-03', 16], ['2022-04-09', 28], ['2022-04-17', 9], ['2022-04-25', 23],
  ['2022-04-28', 6], ['2022-05-01', 39], ['2022-05-07', 21], ['2022-05-12', 11], ['2022-05-18', 9], ['2022-05-22', 7], ['2022-05-29', 9],
  ['2022-06-02', 43], ['2022-06-09', 34], ['2022-06-13', 87], ['2022-06-17', 9], ['2022-06-20', 18], ['2022-06-24', 11], ['2022-06-28', 25],
  ['2022-07-06', 32], ['2022-07-13', 10], ['2022-07-18', 25], ['2022-07-22', 8], ['2022-07-28', 28], ['2022-08-04', 9], ['2022-08-09', 14],
  ['2022-08-14', 11], ['2022-08-18', 7], ['2022-08-25', 7], ['2022-09-05', 28], ['2022-09-16', 7], ['2022-09-20', 37], ['2022-09-22', 58],
  ['2022-10-07', 7], ['2022-10-16', 5], ['2022-10-21', 7], ['2022-11-23', 12], ['2022-11-26', 60], ['2022-12-04', 4], ['2022-12-23', 11],
  ['2023-01-17', 6], ['2023-02-10', 5], ['2023-03-13', 12], ['2023-03-18', 28], ['2023-03-24', 7], ['2023-03-29', 5], ['2023-04-15', 9],
  ['2023-04-26', 23], ['2023-05-06', 49], ['2023-05-17', 5], ['2023-05-28', 12], ['2023-06-03', 27], ['2023-06-08', 39], ['2023-06-11', 9],
  ['2023-06-14', 41], ['2023-06-16', 50], ['2023-06-19', 10], ['2023-06-22', 18], ['2023-06-26', 12], ['2023-06-30', 21], ['2023-07-03', 8],
  ['2023-07-08', 23], ['2023-07-13', 20], ['2023-07-19', 9], ['2023-08-02', 11], ['2023-08-07', 14], ['2023-08-13', 7], ['2023-09-07', 98],
  ['2023-09-10', 46], ['2023-09-14', 9], ['2023-09-20', 5], ['2023-09-26', 7], ['2023-10-01', 7], ['2023-10-05', 8], ['2023-10-09', 23],
  ['2023-10-17', 34], ['2023-10-21', 6], ['2023-10-25', 14], ['2023-11-03', 7], ['2023-11-08', 21], ['2023-11-14', 20], ['2023-11-19', 34],
  ['2023-12-09', 4], ['2023-12-17', 4], ['2024-01-03', 5], ['2024-01-08', 5], ['2024-01-22', 102], ['2024-02-08', 11], ['2024-02-24', 14],
  ['2024-03-02', 20], ['2024-03-07', 13], ['2024-03-10', 20], ['2024-03-14', 32], ['2024-03-18', 9], ['2024-03-22', 7], ['2024-03-28', 54],
  ['2024-03-31', 50], ['2024-04-12', 58], ['2024-05-09', 11], ['2024-05-16', 54], ['2024-05-20', 9], ['2024-05-25', 7], ['2024-06-01', 6],
  ['2024-06-19', 12], ['2024-06-25', 11], ['2024-07-13', 20], ['2024-07-16', 14], ['2024-08-13', 16], ['2024-08-18', 23], ['2024-08-24', 21],
  ['2024-08-29', 8], ['2024-09-04', 37], ['2024-09-10', 9], ['2024-09-15', 23], ['2024-09-20', 25], ['2024-09-26', 25], ['2024-09-30', 12],
  ['2024-10-01', 32], ['2024-10-06', 12], ['2024-10-10', 46], ['2024-10-14', 10], ['2024-10-20', 12], ['2024-10-24', 8], ['2024-10-28', 25],
  ['2024-11-03', 37], ['2024-11-06', 34], ['2024-11-19', 7], ['2024-11-30', 11], ['2024-12-11', 2], ['2025-01-10', 12], ['2025-01-18', 7],
  ['2025-02-14', 12], ['2025-03-02', 12], ['2025-03-05', 54], ['2025-03-11', 27], ['2025-03-15', 27], ['2025-03-21', 12], ['2025-04-02', 64],
  ['2025-04-07', 5], ['2025-04-14', 38], ['2025-04-21', 12], ['2025-04-26', 7], ['2025-05-02', 50], ['2025-05-07', 14], ['2025-05-11', 10],
  ['2025-05-14', 9], ['2025-05-18', 20], ['2025-05-23', 43], ['2025-05-26', 12], ['2025-05-29', 21], ['2025-06-02', 66], ['2025-06-06', 11],
  ['2025-06-10', 8], ['2025-06-14', 20], ['2025-06-18', 9], ['2025-06-22', 9], ['2025-07-08', 14], ['2025-07-19', 9], ['2025-07-24', 6],
  ['2025-08-01', 23], ['2025-08-05', 21], ['2025-08-08', 8], ['2025-08-11', 14], ['2025-08-27', 7], ['2025-09-07', 23], ['2025-09-12', 7],
  ['2025-09-18', 27], ['2025-09-23', 21], ['2025-09-29', 9], ['2025-10-08', 9], ['2025-10-12', 43], ['2025-10-17', 39], ['2025-10-21', 12],
  ['2025-10-26', 44], ['2025-10-29', 10], ['2025-11-01', 66], ['2025-11-12', 14], ['2025-12-03', 4], ['2025-12-14', 20], ['2025-12-25', 11],
  ['2026-01-05', 7], ['2026-02-26', 20], ['2026-03-01', 18], ['2026-03-04', 5],
];

const toTime = (d: string) => Date.UTC(+d.slice(0, 4), +d.slice(5, 7) - 1, +d.slice(8, 10));

const seriesByKey: Record<string, Pt[]> = {
  outer: outerLevel,
  inner: innerLevel,
  yellow: yellowLevel,
  blue: blueLevel,
  drain: drainLevel,
  sdM: sdMountain,
  sdS: sdSea,
  deep: deepLevel,
  step: stepLevel,
  rain: rainfall,
};

const rowMap = new Map<number, any>();
Object.entries(seriesByKey).forEach(([key, list]) => {
  list.forEach(([d, v]) => {
    const t = toTime(d);
    const row = rowMap.get(t) ?? { t };
    row[key] = v;
    rowMap.set(t, row);
  });
});
const rows = [...rowMap.values()].sort((a, b) => a.t - b.t);

const xTicks = tickDates.map(toTime);
const labelOf = new Map(xTicks.map((t, i) => [t, tickLabels[i]]));
const xDomain = [toTime('2019-04-01'), toTime('2026-04-01')];

const lineStyles = [
  { key: 'step', color: '#000000', width: 3, dash: '7 5' },
  { key: 'deep', color: '#C55A11', width: 4.5 },
  { key: 'inner', color: '#FF80DF', width: 5.5 },
  { key: 'outer', color: '#595959', width: 6.5 },
  { key: 'yellow', color: '#FFC000', width: 5 },
  { key: 'sdM', color: '#0B840B', width: 5 },
  { key: 'sdS', color: '#ED7D31', width: 5 },
  { key: 'blue', color: '#2E75B6', width: 5 },
  { key: 'drain', color: '#FF0000', width: 5 },
];

const DateTick = (props: any) => {
  const { x, y, payload } = props;
  return (
    <text transform={`translate(${x + 6.2},${y}) rotate(-90)`} textAnchor="end" fontSize={17} fill="#1a1a1a">
      {labelOf.get(payload.value) ?? ''}
    </text>
  );
};

// the digits of the reference are wider still, so they get a little extra stretch
const LevelTick = (props: any) => {
  const { x, y, payload } = props;
  return (
    <text transform={`translate(${x},${y}) scale(1.17,1)`} dy="0.36em" textAnchor="end" fontSize={22} fill="#1a1a1a">
      {Number(payload.value).toFixed(1)}
    </text>
  );
};

const RainTick = (props: any) => {
  const { x, y, payload } = props;
  if (payload.value % 50 !== 0) return <g />;
  return (
    <text transform={`translate(${x},${y}) scale(1.1,1)`} dy="0.36em" textAnchor="start" fontSize={22} fill="#1a1a1a">
      {payload.value}
    </text>
  );
};

// daily rows are so close that Recharts gives each bar a sub-pixel band; draw a fixed-width stick on its centre
const RainStick = (props: any) => {
  const { x, y, width, height } = props;
  if (!height || height <= 0) return <g />;
  return <rect x={x + width / 2 - 0.8} y={y} width={1.6} height={height} fill="#3F6FC6" />;
};

// x of the annotation line (2019/12/20), in the chart's own units
const annX = 124 + ((toTime('2019-12-20') - xDomain[0]) / (xDomain[1] - xDomain[0])) * (1379.2 - 124);

export default function App() {
  return (
    <div style={{ position: 'absolute', left: 0, top: 0, width: 1868, height: H, overflow: 'hidden', background: '#fff', fontFamily: FONT }}>
      <div style={{ position: 'relative', width: W, height: H, transform: `scaleX(${S})`, transformOrigin: '0 0' }}>
        <ComposedChart width={W} height={H} data={rows} margin={{ top: 76, right: 35, bottom: 7, left: 44 }}>
          <CartesianGrid yAxisId="left" vertical={false} stroke="#BFBFBF" strokeWidth={2} strokeDasharray="8 6" />
          <CartesianGrid yAxisId="left" horizontal={false} stroke="#000" strokeWidth={2} strokeDasharray="7 5" />
          <XAxis
            dataKey="t" type="number" domain={xDomain} ticks={xTicks} allowDataOverflow interval={0}
            height={70} tickSize={0} tickMargin={5} tickLine={false}
            axisLine={{ stroke: '#262626', strokeWidth: 2 }} tick={<DateTick />}
          />
          <XAxis
            xAxisId="top" orientation="top" dataKey="t" type="number" domain={xDomain} ticks={xTicks}
            allowDataOverflow interval={0} height={8} tickSize={6} tick={false}
            tickLine={{ stroke: '#000', strokeWidth: 2 }} axisLine={{ stroke: '#000', strokeWidth: 2 }}
          />
          <YAxis
            yAxisId="left" type="number" domain={[-3, 9.5]} ticks={levelTicks} allowDataOverflow interval={0}
            width={80} axisLine={false} tickLine={false} tickSize={0} tickMargin={36} tick={<LevelTick />}
          />
          <YAxis
            yAxisId="right" orientation="right" type="number" domain={[0, 250]} ticks={rainTicks} allowDataOverflow interval={0}
            width={80} tickSize={6} tickMargin={24}
            axisLine={{ stroke: '#A6A6A6', strokeWidth: 2, strokeDasharray: '6 4' }}
            tickLine={{ stroke: '#BFBFBF', strokeWidth: 2 }}
            tick={<RainTick />}
          />
          <Bar yAxisId="right" dataKey="rain" fill="#3F6FC6" shape={<RainStick />} isAnimationActive={false} />
          {lineStyles.map((s) => (
            <Line
              key={s.key} yAxisId="left" type="linear" dataKey={s.key} stroke={s.color} strokeWidth={s.width}
              strokeDasharray={s.dash} dot={false} activeDot={false} connectNulls isAnimationActive={false}
              strokeLinejoin="round"
            />
          ))}
        </ComposedChart>

        <svg width={W} height={H} style={{ position: 'absolute', left: 0, top: 0, pointerEvents: 'none' }}>
          <line x1={8} y1={6} x2={W} y2={6} stroke="#000" strokeWidth={2} />
          <line x1={8} y1={0} x2={8} y2={6} stroke="#000" strokeWidth={2} />
          <rect x={481.6} y={2} width={443} height={5} fill="#000" />

          <line x1={annX} y1={98} x2={annX} y2={566} stroke="#808080" strokeWidth={3.5} strokeDasharray="12 7" />
          <rect x={198.4} y={-3} width={148} height={101} fill="#fff" stroke="#000" strokeWidth={2.4} />
          <g fontSize={18} fill="#1a1a1a" textAnchor="middle">
            <text x={272.4} y={29}>第三段階Ⅱ</text>
            <text x={272.4} y={47}>（西③）</text>
            <text x={272.4} y={65}>凍結開始</text>
            <text x={272.4} y={83}>（2017/8/22）</text>
          </g>

          <text x={767} y={54} textAnchor="middle" fontSize={27} fontWeight="bold" fontFamily={CJK} fill="#1a1a1a">
            陸側遮水壁　内外の各平均水位の推移
          </text>
          <text x={1434} y={63} textAnchor="end" fontSize={18} fill="#1a1a1a">データ；～2026/3/16</text>

          <text transform="translate(40,313) rotate(-90)" textAnchor="middle" fontSize={25} fill="#1a1a1a">水位（T.P.+m)</text>
          <text transform="translate(1487,307) rotate(-90)" textAnchor="middle" fontSize={26} fill="#1a1a1a">降水量（福島第一）（mm/日）</text>

          <text x={1209} y={133} textAnchor="middle" fontSize={15} fill="#1a1a1a">陸側遮水壁外側：山側水位</text>
          <text x={1273} y={186} textAnchor="middle" fontSize={19} fontWeight="bold" fontFamily={CJK} fill="#1a1a1a">内外水位差</text>
          <text x={1273} y={211} textAnchor="middle" fontSize={19} fontFamily={CJK}>
            <tspan fill="#404040">（黒と</tspan>
            <tspan fill="#FF66CC">ピンク）</tspan>
          </text>
          <text x={1237} y={261} textAnchor="middle" fontSize={15} fill="#FF66CC">陸側遮水壁内側：山側水位</text>

          <line x1={1372} y1={126} x2={1372} y2={367} stroke="#000" strokeWidth={2.2} />
          <polygon points="1372,113 1366,128 1378,128" fill="#000" />
          <polygon points="1372,380 1366,365 1378,365" fill="#000" />

          <g fontSize={17} textAnchor="start">
            <text x={1381.6} y={395} fill="#FF0000">地下水ドレン</text>
            <text x={1381.6} y={417} fill="#FF0000">観測孔水位</text>
            <text x={1381.6} y={444} fill="#00B050">SD（山側）</text>
            <text x={1381.6} y={486} fill="#ED7D31">SD（海側）</text>
          </g>
        </svg>
      </div>
    </div>
  );
}
